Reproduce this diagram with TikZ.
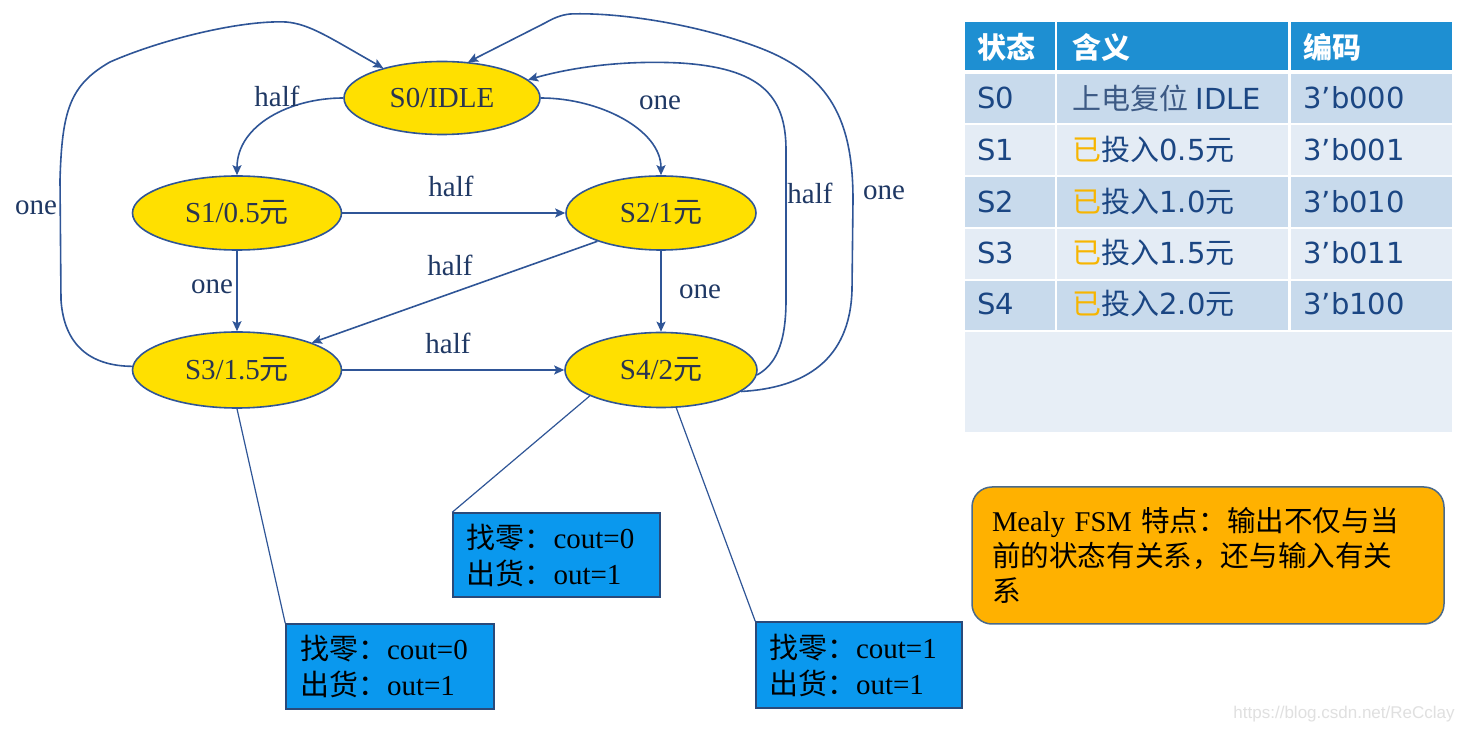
\documentclass[tikz,border=0pt]{standalone}
\usepackage{fontspec}
\setmainfont{Liberation Serif}
\newfontfamily\cjk{Noto Sans CJK SC}
\newfontfamily\tabf{DejaVu Sans}
\newfontfamily\wmf{Liberation Sans}
\usetikzlibrary{arrows.meta,shapes.geometric}
\definecolor{linec}{HTML}{2F5597}
\definecolor{labc}{HTML}{1F3864}
\definecolor{yel}{HTML}{FFE000}
\definecolor{stxt}{HTML}{2A3550}
\definecolor{cyanb}{HTML}{0A98EE}
\definecolor{boxb}{HTML}{2A4A7A}
\definecolor{orng}{HTML}{FFB100}
\definecolor{orngb}{HTML}{4A6A8A}
\definecolor{hdr}{HTML}{1E8FD2}
\definecolor{rowdk}{HTML}{C8DAEC}
\definecolor{rowlt}{HTML}{E4ECF5}
\definecolor{rowbt}{HTML}{E7EEF6}
\definecolor{tabtxt}{HTML}{1B4683}
\definecolor{tabcjk}{HTML}{3D5A85}
\definecolor{yi}{HTML}{F7B500}
\newcommand\myfs{\fontsize{14.5pt}{17.5pt}\selectfont}
\newcommand\boxfs{\fontsize{14.5pt}{18pt}\selectfont}
\newcommand\notefs{\fontsize{14.3pt}{17.5pt}\selectfont}
\begin{document}
\begin{tikzpicture}[x=0.5pt,y=-0.5pt,
  state/.style={ellipse, draw=linec, line width=0.8pt, fill=yel, inner sep=0pt, text=stxt, font=\myfs},
  arr/.style={draw=linec, line width=0.8pt, -{Stealth[length=5pt,width=4.5pt,inset=1pt]}},
  lab/.style={text=labc, font=\myfs, inner sep=1pt},
  callout/.style={draw=linec, line width=0.6pt},
  cbox/.style={rectangle, draw=boxb, line width=0.75pt, fill=cyanb, text=black, align=left, inner xsep=6.5pt, font=\boxfs, text width=90pt},
  obox/.style={rectangle, rounded corners=10pt, draw=orngb, line width=0.75pt, fill=orng, text=black, align=left, inner xsep=10pt, font=\notefs, text width=216pt},
  tcell/.style={anchor=west, inner sep=0pt, font=\myfs, text=tabtxt},
  hcell/.style={anchor=west, inner sep=0pt, font=\myfs\cjk\bfseries, text=white}
]
\useasboundingbox[fill=white] (0,0) rectangle (1463,732);

% states
\node[state, minimum width=98pt, minimum height=36.5pt] (S0) at (442,98) {S0/IDLE};
\node[state, minimum width=104.5pt, minimum height=37pt] (S1) at (237,213) {S1/0.5{\cjk 元}};
\node[state, minimum width=95pt, minimum height=37pt] (S2) at (661,213) {S2/1{\cjk 元}};
\node[state, minimum width=104.5pt, minimum height=38pt] (S3) at (237,370) {S3/1.5{\cjk 元}};
\node[state, minimum width=96pt, minimum height=37.5pt] (S4) at (661,370) {S4/2{\cjk 元}};

% transitions
\draw[arr] (S0.west) .. controls (290,98) and (237,125) .. (S1.north);
\draw[arr] (S0.east) .. controls (600,98) and (661,130) .. (S2.north);
\draw[arr] (S1.east) -- (S2.west);
\draw[arr] (S2.204) -- (S3.20);
\draw[arr] (S1.south) -- (S3.north);
\draw[arr] (S2.south) -- (S4.north);
\draw[arr] (S3.east) -- (S4.west);
\draw[arr] (S3.178) .. controls (90,366) and (64,345) .. (61,300) -- (60,180)
  .. controls (62,110) and (70,85) .. (110,62) .. controls (160,40) and (240,20) .. (286,22)
  .. controls (310,24) and (330,38) .. (S0.153);
\draw[arr] (S4.-3) .. controls (775,365) and (786,345) .. (786,300) -- (786,150)
  .. controls (786,95) and (760,68) .. (680,63) .. controls (620,60) and (570,68) .. (S0.12);
\draw[arr] (S4.-15) .. controls (805,388) and (850,360) .. (852,290) -- (853,200)
  .. controls (853,120) and (830,75) .. (760,48) .. controls (700,25) and (620,12) .. (570,14)
  .. controls (560,15) and (552,19) .. (545,23) -- (S0.54);

% labels
\node[lab] (l1) at (277,96) {half};
\node[lab] (l2) at (660,103) {one};
\node[lab] (l3) at (451,186) {half};
\node[lab] (l4) at (450,265) {half};
\node[lab] (l5) at (212,287) {one};
\node[lab] (l6) at (700,292) {one};
\node[lab] (l7) at (448,343) {half};
\node[lab] (l8) at (36,208) {one};
\node[lab] (l9) at (810,193) {half};
\node[lab] (l10) at (884,193) {one};

% output boxes
\node[cbox, minimum width=104pt, minimum height=42.5pt] (b1) at (390,666.5) {{\cjk 找零：}cout=0\\{\cjk 出货：}out=1};
\node[cbox, minimum width=103.5pt, minimum height=42pt] (b2) at (556.5,555) {{\cjk 找零：}cout=0\\{\cjk 出货：}out=1};
\node[cbox, minimum width=103pt, minimum height=43pt] (b3) at (859,665) {{\cjk 找零：}cout=1\\{\cjk 出货：}out=1};
\draw[callout] (S3.south) -- (b1.north west);
\draw[callout] (S4.200) -- (b2.north west);
\draw[callout] (S4.-68) -- (b3.north west);

% note
\node[obox, minimum width=236pt, minimum height=68.5pt] (note) at (1208,555.5)
  {Mealy FSM {\cjk 特点：输出不仅与当}\\{\cjk 前的状态有关系，还与输入有关}\\{\cjk 系}};

% table
\fill[hdr] (965,22) rectangle (1055,70);
\fill[hdr] (1057,22) rectangle (1288,70);
\fill[hdr] (1291,22) rectangle (1452,70);
\foreach \ya/\yb/\cc in {74/123/rowdk,125/175/rowlt,177/227/rowdk,229/279/rowlt,281/330/rowdk}{
  \fill[\cc] (965,\ya) rectangle (1055,\yb);
  \fill[\cc] (1057,\ya) rectangle (1288,\yb);
  \fill[\cc] (1291,\ya) rectangle (1452,\yb);
}
\fill[rowbt] (965,332) rectangle (1452,432);

\node[hcell] (h1) at (977,47) {状态};
\node[hcell] (h2) at (1072,47) {含义};
\node[hcell] (h3) at (1303,47) {编码};

\node[tcell] (a0) at (977,98) {\tabf S0};
\node[tcell] (a1) at (977,150) {\tabf S1};
\node[tcell] (a2) at (977,202) {\tabf S2};
\node[tcell] (a3) at (977,253) {\tabf S3};
\node[tcell] (a4) at (977,304) {\tabf S4};

\node[tcell] (m0) at (1072,98) {{\cjk\color{tabcjk}上电复位} \tabf IDLE};
\node[tcell] (m1) at (1072,150) {{\cjk\color{yi}已}{\cjk 投入}{\tabf 0.5}{\cjk 元}};
\node[tcell] (m2) at (1072,202) {{\cjk\color{yi}已}{\cjk 投入}{\tabf 1.0}{\cjk 元}};
\node[tcell] (m3) at (1072,253) {{\cjk\color{yi}已}{\cjk 投入}{\tabf 1.5}{\cjk 元}};
\node[tcell] (m4) at (1072,304) {{\cjk\color{yi}已}{\cjk 投入}{\tabf 2.0}{\cjk 元}};

\node[tcell] (c0) at (1303,98) {\tabf 3’b000};
\node[tcell] (c1) at (1303,150) {\tabf 3’b001};
\node[tcell] (c2) at (1303,202) {\tabf 3’b010};
\node[tcell] (c3) at (1303,253) {\tabf 3’b011};
\node[tcell] (c4) at (1303,304) {\tabf 3’b100};

% watermark
\node[anchor=east, inner sep=0pt, text=black!12, font=\wmf\fontsize{8.5pt}{9pt}\selectfont] (wm) at (1455,714) {https://blog.csdn.net/ReCclay};
\end{tikzpicture}
\end{document}
